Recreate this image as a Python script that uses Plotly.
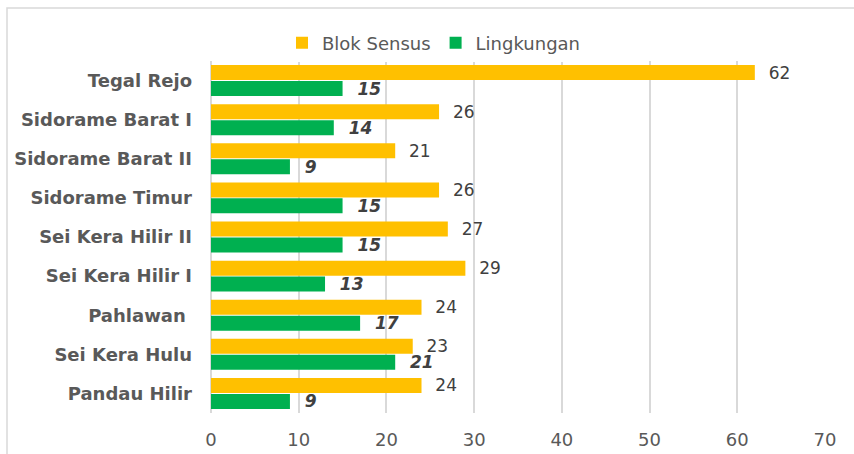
import plotly.graph_objects as go

categories = ["Tegal Rejo", "Sidorame Barat I", "Sidorame Barat II", "Sidorame Timur",
              "Sei Kera Hilir II", "Sei Kera Hilir I", "Pahlawan ", "Sei Kera Hulu", "Pandau Hilir"]
blok_sensus = [62, 26, 21, 26, 27, 29, 24, 23, 24]
lingkungan = [15, 14, 9, 15, 15, 13, 17, 21, 9]
x_ticks = [0, 10, 20, 30, 40, 50, 60, 70]

W, H = 854, 454
L, R, T, B = 211, 29, 61, 41
pw, ph = W - L - R, H - T - B
pad = "\u00a0\u00a0"

fig = go.Figure()
fig.add_trace(go.Bar(
    y=categories, x=blok_sensus, orientation="h", name="Blok Sensus",
    marker=dict(color="#FFC000", line=dict(width=0)),
    text=blok_sensus, texttemplate=pad + "%{x}", textposition="outside", constraintext="none",
    textfont=dict(family="DejaVu Sans", size=17, color="#404040"),
    cliponaxis=False,
))
fig.add_trace(go.Bar(
    y=categories, x=lingkungan, orientation="h", name="Lingkungan",
    marker=dict(color="#00B050", line=dict(width=0)),
    text=lingkungan, texttemplate=pad + "%{x}", textposition="outside", constraintext="none",
    textfont=dict(family="DejaVu Sans", size=17, color="#404040", weight="bold", style="italic"),
    cliponaxis=False,
))

fig.update_layout(
    width=W, height=H,
    margin=dict(l=L, r=R, t=T, b=B, autoexpand=False),
    paper_bgcolor="white", plot_bgcolor="white",
    barmode="group", bargap=0.185, bargroupgap=0.06,
    showlegend=True,
    legend=dict(orientation="h", x=(434 - L) / pw, xanchor="center", y=(H - B - 43) / ph,
                yanchor="middle", font=dict(family="DejaVu Sans", size=18, color="#595959"),
                itemwidth=30, traceorder="normal"),
    xaxis=dict(range=[0, 70], tickvals=x_ticks, showgrid=True, gridcolor="#D9D9D9",
               gridwidth=1.5, zeroline=True, zerolinecolor="#D9D9D9", zerolinewidth=1.5,
               tickfont=dict(family="DejaVu Sans", size=18, color="#595959"), ticks="",
               showline=False, automargin=False, ticklabelstandoff=14),
    yaxis=dict(autorange="reversed", tickfont=dict(family="DejaVu Sans", size=18, color="#595959", weight="bold"),
               ticks="", ticklen=0, showline=False, ticklabelstandoff=18, automargin=False),
    shapes=[dict(type="rect", xref="paper", yref="paper",
                 x0=(7 - L) / pw, x1=1.5, y0=-0.5, y1=(H - B - 8) / ph,
                 line=dict(color="#D9D9D9", width=1.5), fillcolor="rgba(0,0,0,0)", layer="below")],
)

fig.write_html("out.html", config={"displayModeBar": False},
               post_script="document.body.style.margin='0';")
